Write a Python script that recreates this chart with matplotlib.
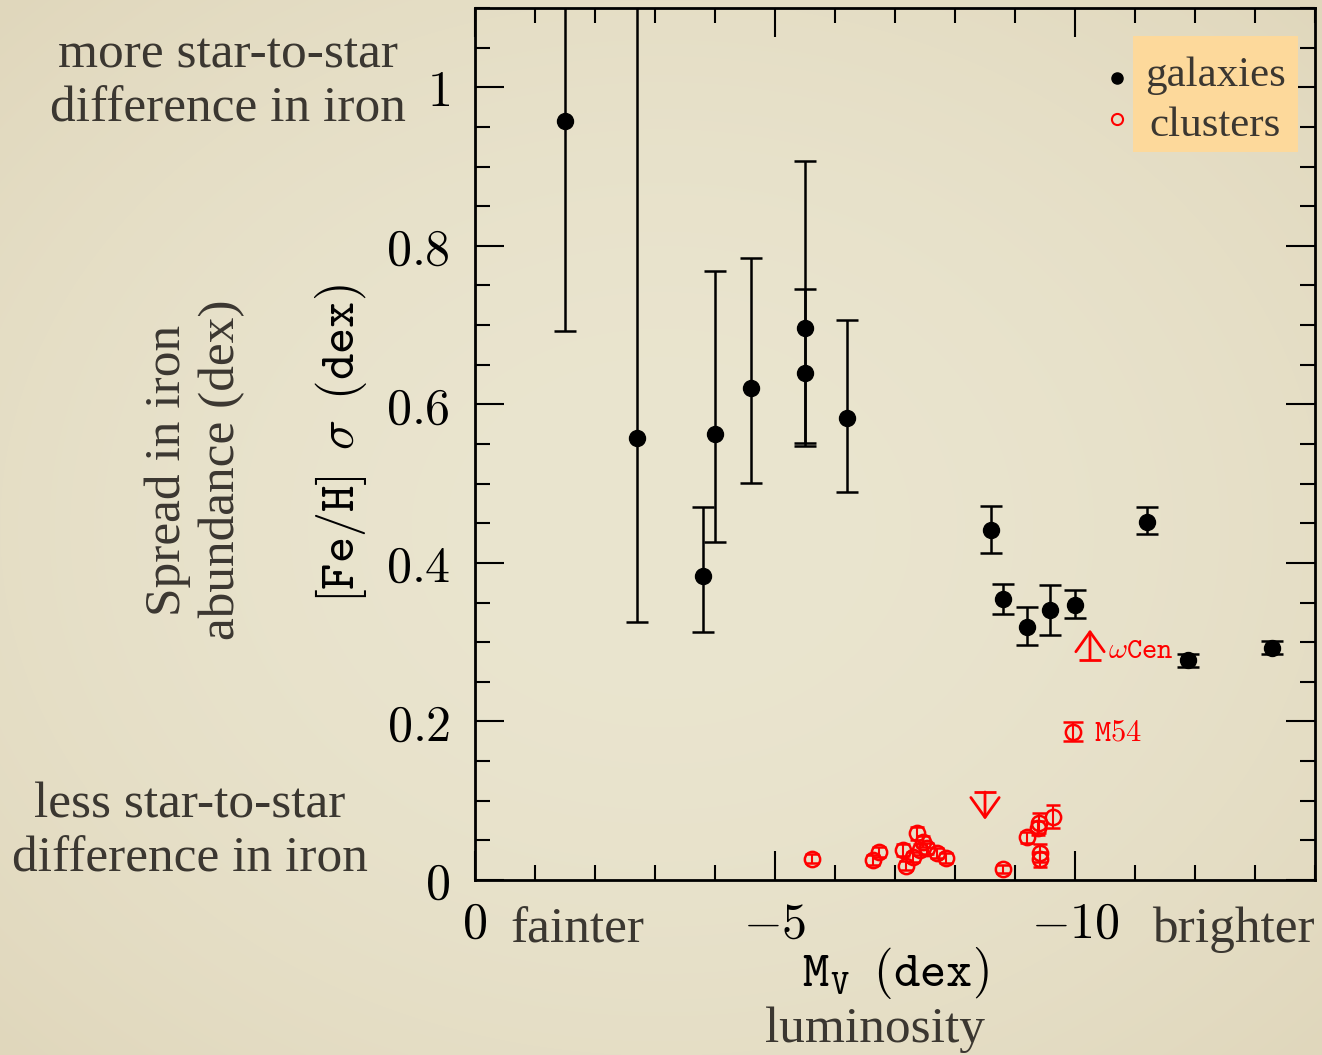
import numpy as np
import matplotlib
matplotlib.use('Agg')
import matplotlib.pyplot as plt
from matplotlib.patches import Rectangle
from matplotlib.ticker import MultipleLocator

plt.rcParams['mathtext.fontset'] = 'cm'

# galaxies: M_V, sigma[Fe/H], lower / upper error
mv_gal = [-1.5, -2.7, -3.8, -4.0, -4.6, -5.5, -5.5, -6.2, -8.6, -8.8, -9.2, -9.58, -10.0, -11.2, -11.88, -13.28]
sig_gal = [0.957, 0.557, 0.383, 0.563, 0.621, 0.696, 0.639, 0.583, 0.441, 0.354, 0.319, 0.340, 0.347, 0.452, 0.277, 0.293]
elo_gal = [0.264, 0.231, 0.070, 0.136, 0.120, 0.145, 0.092, 0.094, 0.028, 0.018, 0.022, 0.031, 0.017, 0.016, 0.008, 0.008]
ehi_gal = [0.300, 0.600, 0.087, 0.205, 0.164, 0.049, 0.268, 0.124, 0.031, 0.020, 0.026, 0.032, 0.019, 0.019, 0.008, 0.008]

# globular clusters
mv_gc = [-5.62, -6.63, -6.73, -7.13, -7.18, -7.37, -7.47, -7.42, -7.30, -7.53, -7.70, -7.85,
         -8.80, -9.20, -9.38, -9.40, -9.63, -9.42, -9.42]
sig_gc = [0.027, 0.025, 0.035, 0.038, 0.018, 0.059, 0.048, 0.038, 0.029, 0.040, 0.034, 0.028,
          0.014, 0.054, 0.066, 0.072, 0.080, 0.034, 0.026]
err_gc = [0.006, 0.006, 0.006, 0.008, 0.006, 0.008, 0.007, 0.007, 0.006, 0.007, 0.006, 0.006,
          0.005, 0.007, 0.009, 0.013, 0.014, 0.011, 0.009]

# named clusters / limits
m54 = (-9.97, 0.187, 0.012)
omega_cen = (-10.25, 0.278, 0.316)   # lower limit: base, tip
ul_gc = (-8.5, 0.111, 0.076)         # upper limit: base, tip

xticks = [0, -5, -10]
yticks = [0, 0.2, 0.4, 0.6, 0.8, 1]
xtick_labels = ['$0$', '$-5$', '$-10$']
ytick_labels = ['$0$', '$0.2$', '$0.4$', '$0.6$', '$0.8$', '$1$']

fig = plt.figure(figsize=(13.22, 10.55), dpi=100)

# beige paper background with a soft vignette
h, w = 1055, 1322
yy, xx = np.mgrid[0:h, 0:w]
r = np.sqrt(((xx - w / 2) / (w / 2)) ** 2 + ((yy - h / 2) / (h / 2)) ** 2) / np.sqrt(2)
c0 = np.array([234, 229, 207]) / 255.
c1 = np.array([224, 215, 188]) / 255.
bg = c0[None, None, :] * (1 - r[..., None] ** 2) + c1[None, None, :] * r[..., None] ** 2
fig.figimage(bg, 0, 0, zorder=-10)

ax = fig.add_axes([475 / 1322, 175 / 1055, 840 / 1322, 872 / 1055])
ax.patch.set_alpha(0)

ax.errorbar(mv_gal, sig_gal, yerr=[elo_gal, ehi_gal], fmt='o', color='black',
            ms=11.5, elinewidth=1.8, capsize=8, capthick=1.8)

ax.errorbar(mv_gc, sig_gc, yerr=err_gc, fmt='o', mfc='none', mec='red', ecolor='red',
            ms=11, mew=1.8, elinewidth=1.5, capsize=5, capthick=1.5)
ax.errorbar([m54[0]], [m54[1]], yerr=[m54[2]], fmt='o', mfc='none', mec='red', ecolor='red',
            ms=11, mew=1.8, elinewidth=1.5, capsize=7, capthick=1.5)

for x0, base, tip in [omega_cen, ul_gc]:
    ax.annotate('', xy=(x0, tip), xytext=(x0, base),
                arrowprops=dict(arrowstyle='->,head_length=0.42,head_width=0.3', color='red',
                                lw=2, mutation_scale=34, shrinkA=0, shrinkB=0))
    ax.plot([x0], [base], marker='_', color='red', ms=16, mew=2)

ax.text(-10.55, 0.290, r'$\omega\mathtt{Cen}$', color='red', fontsize=21, va='center', ha='left')
ax.text(-10.32, m54[1], r'$\mathtt{M54}$', color='red', fontsize=22, va='center', ha='left')

ax.set_xlim(0, -14)
ax.set_ylim(0, 1.1)
ax.set_xticks(xticks)
ax.set_xticklabels(xtick_labels)
ax.set_yticks(yticks)
ax.set_yticklabels(ytick_labels)
ax.xaxis.set_minor_locator(MultipleLocator(1))
ax.yaxis.set_minor_locator(MultipleLocator(0.05))
ax.tick_params(which='both', direction='in', top=True, right=True, width=1.5, colors='black')
ax.tick_params(which='major', length=21, labelsize=36)
ax.tick_params(axis='y', which='major', pad=18)
ax.tick_params(axis='x', which='major', pad=14)
ax.tick_params(which='minor', length=11)
for s in ax.spines.values():
    s.set_linewidth(2)

ax.set_ylabel(r'$\mathtt{[Fe/H]}\enspace\sigma\enspace\mathtt{(dex)}$', fontsize=36, labelpad=12)
ax.set_xlabel(r'$\mathtt{M_V}\enspace\mathtt{(dex)}$', fontsize=36, labelpad=-2)

# legend box
ax.add_patch(Rectangle((0.783, 0.835), 0.197, 0.133, transform=ax.transAxes,
                       facecolor='#fdd99b', edgecolor='none', zorder=5))
ax.plot([0.764], [0.920], 'o', color='black', ms=8, transform=ax.transAxes, clip_on=False)
ax.plot([0.764], [0.873], 'o', mfc='none', mec='red', mew=1.5, ms=8, transform=ax.transAxes,
        clip_on=False)
txt = '#3b3731'
serif = 'Liberation Serif'
ax.text(0.881, 0.922, 'galaxies', transform=ax.transAxes, ha='center', va='center',
        fontsize=31, color=txt, family=serif, zorder=6)
ax.text(0.881, 0.865, 'clusters', transform=ax.transAxes, ha='center', va='center',
        fontsize=31, color=txt, family=serif, zorder=6)

# explanatory notes
fs = 37
fig.text(228 / 1322, 1 - 82 / 1055, 'more star-to-star\ndifference in iron', ha='center',
         va='center', fontsize=fs, color=txt, family=serif, linespacing=1.2)
fig.text(190 / 1322, 1 - 832 / 1055, 'less star-to-star\ndifference in iron', ha='center',
         va='center', fontsize=fs, color=txt, family=serif, linespacing=1.2)
fig.text(195 / 1322, 1 - 470 / 1055, 'Spread in iron\nabundance (dex)', ha='center',
         va='center', fontsize=fs, color=txt, family=serif, rotation=90, linespacing=1.2)
fig.text(577 / 1322, 1 - 930 / 1055, 'fainter', ha='center', va='center', fontsize=fs,
         color=txt, family=serif)
fig.text(1233 / 1322, 1 - 930 / 1055, 'brighter', ha='center', va='center', fontsize=fs,
         color=txt, family=serif)
fig.text(875 / 1322, 1 - 1030 / 1055, 'luminosity', ha='center', va='center', fontsize=fs,
         color=txt, family=serif)

fig.savefig('out.png', dpi=100)
